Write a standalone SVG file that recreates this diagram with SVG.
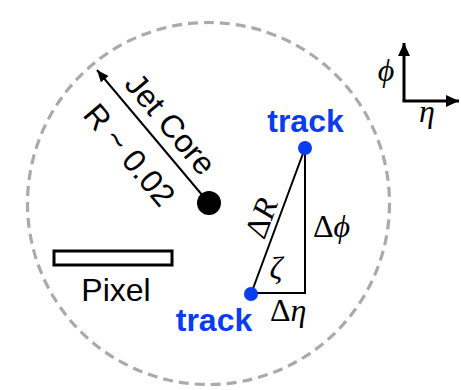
<svg xmlns="http://www.w3.org/2000/svg" width="461" height="390" viewBox="0 0 461 390">
<style>
.sans{font-family:"Liberation Sans",Arial,sans-serif;font-size:32px;fill:#000}
.trk{font-family:"Liberation Sans",Arial,sans-serif;font-size:32px;font-weight:bold;fill:#0a3cf0}
.math{font-family:"Liberation Serif","DejaVu Serif",serif;font-size:32px;fill:#000}
.it{font-style:italic}
.edge{stroke:#000;stroke-width:2;fill:none}
</style>
<defs>
<marker id="ah" markerUnits="userSpaceOnUse" markerWidth="12" markerHeight="10" refX="12" refY="5" orient="auto">
<path d="M0,0 L12,5 L0,10 z" fill="#000"/>
</marker>
<marker id="ax" markerUnits="userSpaceOnUse" markerWidth="13" markerHeight="12" refX="13" refY="6" orient="auto">
<path d="M0,0 L13,6 L0,12 z" fill="#000"/>
</marker>
</defs>
<rect width="461" height="390" fill="#fff"/>
<g id="cone">
<circle cx="208.5" cy="203.5" r="181" fill="none" stroke="#aaa" stroke-width="3.2" stroke-dasharray="10 6"/>
</g>
<g id="connectors">
<line class="edge" x1="208" y1="202" x2="97" y2="70" marker-end="url(#ah)"/>
<polyline class="edge" points="251,294 305,148 305,293 251,293"/>
<line x1="404" y1="101" x2="404" y2="43" stroke="#000" stroke-width="3" marker-end="url(#ax)"/>
<line x1="402.5" y1="101" x2="459" y2="101" stroke="#000" stroke-width="3" marker-end="url(#ax)"/>
</g>
<g id="jetcore">
<circle cx="209" cy="203" r="12" fill="#000"/>
<text class="sans" x="162" y="131" text-anchor="middle" transform="rotate(50 162 131)">Jet Core</text>
<text class="sans" x="121" y="162" text-anchor="middle" transform="rotate(50 121 162)">R ~ 0.02</text>
</g>
<g id="pixel">
<rect x="54" y="251" width="118" height="14" fill="none" stroke="#000" stroke-width="3"/>
<text class="sans" x="116" y="301" text-anchor="middle">Pixel</text>
</g>
<g id="track1">
<circle cx="305" cy="148" r="7" fill="#0a3cf0"/>
<text class="trk" x="305.5" y="132" text-anchor="middle">track</text>
</g>
<g id="track2">
<circle cx="251" cy="294" r="7" fill="#0a3cf0"/>
<text class="trk" x="214" y="331" text-anchor="middle">track</text>
</g>
<g id="labels">
<text class="math" x="271.3" y="221.8" text-anchor="middle" transform="rotate(-69.7 271.3 221.8)">Δ<tspan class="it">R</tspan></text>
<text class="math" x="313" y="237">Δ<tspan class="it">ϕ</tspan></text>
<text class="math" x="270" y="321">Δ<tspan class="it">η</tspan></text>
<text class="math it" x="276" y="279" text-anchor="middle">ζ</text>
</g>
<g id="axes">
<text class="math it" x="386" y="81" text-anchor="middle" font-size="27">ϕ</text>
<text class="math it" x="427" y="122" text-anchor="middle" font-size="27">η</text>
</g>
</svg>
